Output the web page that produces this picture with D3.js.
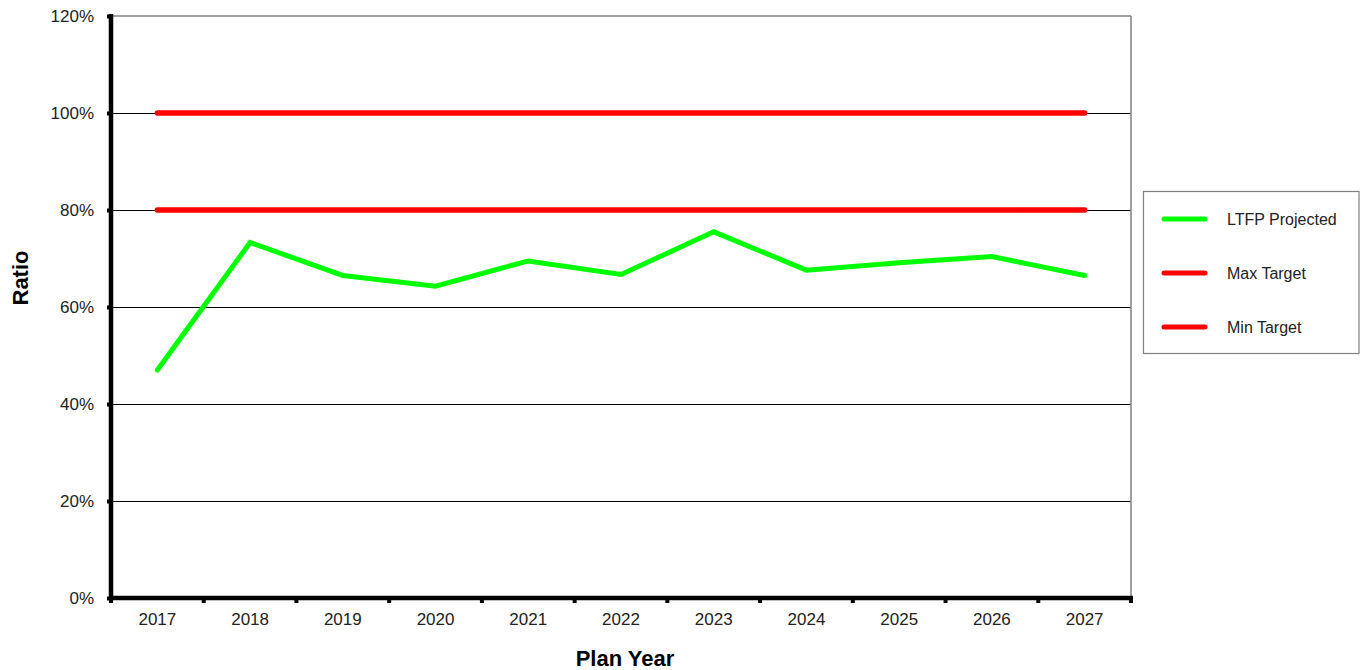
<!DOCTYPE html>
<html>
<head>
<meta charset="utf-8">
<script src="https://cdn.jsdelivr.net/npm/d3@7"></script>
<style>
  html, body { margin: 0; padding: 0; background: #fff; }
  svg { display: block; font-family: "Liberation Sans", Arial, sans-serif; }
</style>
</head>
<body>
<svg id="chart" width="1364" height="670"></svg>
<script>
const years = ["2017","2018","2019","2020","2021","2022","2023","2024","2025","2026","2027"];
const ltfpProjected = [47.0, 73.3, 66.5, 64.3, 69.5, 66.7, 75.5, 67.6, 69.1, 70.4, 66.5];
const maxTarget = [100, 100, 100, 100, 100, 100, 100, 100, 100, 100, 100];
const minTarget = [80, 80, 80, 80, 80, 80, 80, 80, 80, 80, 80];
const yTicks = [0, 20, 40, 60, 80, 100, 120];
const seriesNames = ["LTFP Projected", "Max Target", "Min Target"];
const seriesColors = ["#00ff00", "#ff0000", "#ff0000"];

const svg = d3.select("#chart");
const L = 111, R = 1131, T = 16, B = 598;

const x = d3.scaleBand().domain(years).range([L, R]).padding(0);
const y = d3.scaleLinear().domain([0, 120]).range([B, T]);
const cx = d => x(d) + x.bandwidth() / 2;

// gridlines
svg.append("g").selectAll("line").data(yTicks.filter(v => v > 0 && v < 120)).join("line")
  .attr("x1", L).attr("x2", R).attr("y1", d => y(d)).attr("y2", d => y(d))
  .attr("stroke", "#000").attr("stroke-width", 1).attr("shape-rendering", "crispEdges");

// plot border top/right (gray)
svg.append("line").attr("x1", L).attr("x2", R).attr("y1", y(120)).attr("y2", y(120))
  .attr("stroke", "#808080").attr("stroke-width", 1.5);
svg.append("line").attr("x1", R).attr("x2", R).attr("y1", y(120)).attr("y2", B)
  .attr("stroke", "#808080").attr("stroke-width", 1.5);

// y axis
const yAxis = svg.append("g").attr("transform", `translate(${L},0)`)
  .call(d3.axisLeft(y).tickValues(yTicks).tickFormat(d => d + "%").tickSize(4).tickPadding(13));
yAxis.select(".domain").remove();
yAxis.selectAll(".tick line").attr("stroke", "#000").attr("stroke-width", 4);
yAxis.selectAll(".tick text").attr("font-size", 17).attr("fill", "#222")
  .attr("font-family", "Liberation Sans, Arial, sans-serif");
svg.append("line").attr("x1", L).attr("x2", L).attr("y1", T - 2).attr("y2", B + 2)
  .attr("stroke", "#000").attr("stroke-width", 4.5);

// x axis
const xAxis = svg.append("g").attr("transform", `translate(0,${B})`)
  .call(d3.axisBottom(x).tickSize(0).tickPadding(15));
xAxis.select(".domain").remove();
xAxis.selectAll(".tick text").attr("font-size", 17).attr("fill", "#222")
  .attr("font-family", "Liberation Sans, Arial, sans-serif");
const boundaries = years.map(d => x(d)).concat([R]);
svg.append("g").selectAll("line").data(boundaries).join("line")
  .attr("x1", d => d).attr("x2", d => d).attr("y1", B).attr("y2", B + 5)
  .attr("stroke", "#000").attr("stroke-width", 4);
svg.append("line").attr("x1", L - 2).attr("x2", R + 2).attr("y1", B).attr("y2", B)
  .attr("stroke", "#000").attr("stroke-width", 4.5);

// series
const line = d3.line().x((d, i) => cx(years[i])).y(d => y(d));
const allSeries = [ltfpProjected, maxTarget, minTarget];
[2, 1, 0].forEach(i => {
  svg.append("path").datum(allSeries[i]).attr("d", line)
    .attr("fill", "none").attr("stroke", seriesColors[i])
    .attr("stroke-width", i === 0 ? 5 : 5.5)
    .attr("stroke-linecap", "round").attr("stroke-linejoin", "miter");
});

// axis titles
svg.append("text").attr("x", 625).attr("y", 666).attr("text-anchor", "middle")
  .attr("font-size", 22).attr("font-weight", "bold").attr("fill", "#000").text("Plan Year");
svg.append("text").attr("transform", "translate(28,278) rotate(-90)").attr("text-anchor", "middle")
  .attr("font-size", 22).attr("font-weight", "bold").attr("fill", "#000").text("Ratio");

// legend
const lg = svg.append("g");
lg.append("rect").attr("x", 1143.5).attr("y", 191.5).attr("width", 215.5).attr("height", 162)
  .attr("fill", "#fff").attr("stroke", "#808080").attr("stroke-width", 1.2);
seriesNames.forEach((name, i) => {
  const yy = 219 + i * 54;
  lg.append("line").attr("x1", 1164).attr("x2", 1205).attr("y1", yy).attr("y2", yy)
    .attr("stroke", seriesColors[i]).attr("stroke-width", 5).attr("stroke-linecap", "round");
  lg.append("text").attr("x", 1227).attr("y", yy + 5.5).attr("font-size", 16).attr("fill", "#222")
    .text(name);
});
</script>
</body>
</html>
